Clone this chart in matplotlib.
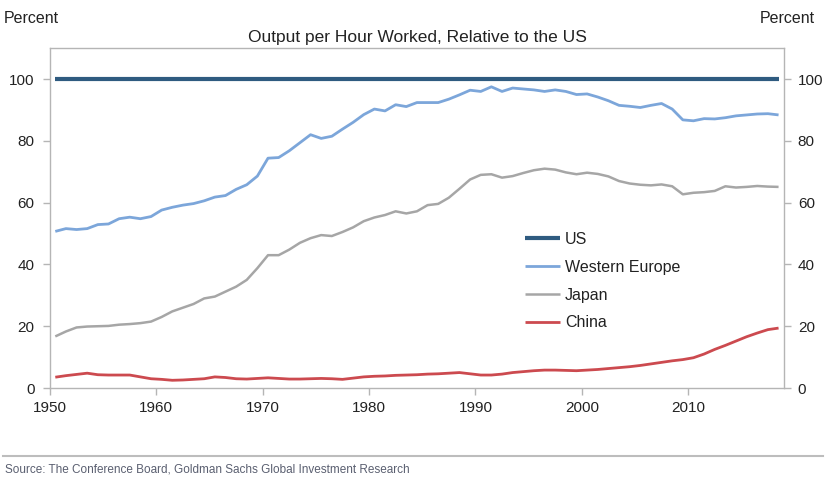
import numpy as np
import matplotlib
matplotlib.use("Agg")
import matplotlib.pyplot as plt
from matplotlib.lines import Line2D

plt.rcParams['font.family'] = ['Liberation Sans', 'DejaVu Sans']

years = np.arange(1950, 2019)

us = [100.0] * len(years)

western_europe = [
    50.7, 51.6, 51.3, 51.6, 52.9, 53.1, 54.8, 55.3, 54.8, 55.5,
    57.6, 58.5, 59.2, 59.7, 60.6, 61.8, 62.3, 64.3, 65.8, 68.6,
    74.4, 74.6, 76.8, 79.4, 82.0, 80.8, 81.5, 83.8, 86.0, 88.5,
    90.3, 89.7, 91.7, 91.1, 92.4, 92.4, 92.4, 93.5, 94.9, 96.4,
    96.0, 97.5, 96.0, 97.1, 96.8, 96.5, 96.0, 96.5, 96.0, 95.0,
    95.2, 94.2, 93.0, 91.5, 91.2, 90.8, 91.5, 92.1, 90.3, 86.8,
    86.5, 87.2, 87.1, 87.5, 88.1, 88.4, 88.7, 88.8, 88.4,
]

japan = [
    16.7, 18.3, 19.6, 19.9, 20.0, 20.1, 20.5, 20.7, 21.0, 21.5,
    23.0, 24.8, 26.0, 27.2, 29.0, 29.6, 31.2, 32.8, 35.0, 38.8,
    43.0, 43.0, 44.8, 47.0, 48.5, 49.5, 49.2, 50.5, 52.0, 54.0,
    55.2, 56.0, 57.2, 56.5, 57.2, 59.2, 59.6, 61.6, 64.5, 67.5,
    69.0, 69.2, 68.1, 68.6, 69.6, 70.5, 71.0, 70.7, 69.8, 69.2,
    69.7, 69.3, 68.5, 67.0, 66.2, 65.8, 65.6, 65.9, 65.3, 62.7,
    63.2, 63.4, 63.8, 65.3, 64.9, 65.1, 65.4, 65.2, 65.1,
]

china = [
    3.5, 4.0, 4.4, 4.8, 4.3, 4.2, 4.2, 4.2, 3.6, 3.0,
    2.8, 2.5, 2.6, 2.8, 3.0, 3.6, 3.4, 3.0, 2.9, 3.1,
    3.3, 3.1, 2.9, 2.9, 3.0, 3.1, 3.0, 2.8, 3.2, 3.6,
    3.8, 3.9, 4.1, 4.2, 4.3, 4.5, 4.6, 4.8, 5.0, 4.6,
    4.2, 4.2, 4.5, 5.0, 5.3, 5.6, 5.8, 5.8, 5.7, 5.6,
    5.8, 6.0, 6.3, 6.6, 6.9, 7.3, 7.8, 8.3, 8.8, 9.2,
    9.8, 11.0, 12.5, 13.8, 15.2, 16.6, 17.8, 18.9, 19.4,
]

series_names = ["US", "Western Europe", "Japan", "China"]
series_colors = ["#2f5b80", "#7ca6da", "#a6a6a6", "#cc4a4f"]
series_widths = [3.0, 2.0, 1.8, 2.0]

x_ticks = [1950, 1960, 1970, 1980, 1990, 2000, 2010]
y_ticks = [0, 20, 40, 60, 80, 100]

fig = plt.figure(figsize=(8.26, 4.82), dpi=100)
ax = fig.add_axes([0.0605, 0.195, 0.8885, 0.705])

# annual values sit at the middle of each year
xs = years + 0.5
handles = []
for vals, name, c, lw in zip([us, western_europe, japan, china], series_names,
                             series_colors, series_widths):
    ln, = ax.plot(xs, vals, color=c, linewidth=lw, label=name, solid_capstyle='butt')
    handles.append(ln)

ax.set_xlim(1950, 2019)
ax.set_ylim(0, 110)
ax.set_xticks(x_ticks)
ax.set_yticks(y_ticks)

spine_col = "#b5b5b5"
for s in ax.spines.values():
    s.set_color(spine_col)
    s.set_linewidth(1.0)

ax.tick_params(axis='both', colors=spine_col, labelcolor="#222222", labelsize=11,
               length=5, width=1.0, direction='out')
ax.tick_params(axis='y', pad=6)
ax.tick_params(axis='x', pad=4)

ax2 = ax.twinx()
ax2.set_ylim(0, 110)
ax2.set_yticks(y_ticks)
for s in ax2.spines.values():
    s.set_visible(False)
ax2.tick_params(axis='y', colors=spine_col, labelcolor="#222222", labelsize=11,
                length=5, width=1.0, direction='out', pad=5)

fig.text(0.005, 0.962, "Percent", fontsize=11.5, color="#222222", ha='left', va='center')
fig.text(0.987, 0.962, "Percent", fontsize=11.5, color="#222222", ha='right', va='center')
fig.text(0.505, 0.922, "Output per Hour Worked, Relative to the US", fontsize=12.5,
         color="#222222", ha='center', va='center')

leg = ax.legend(handles=handles, loc='upper left', bbox_to_anchor=(525 / 826, 1 - 232 / 482),
                bbox_transform=fig.transFigure, frameon=False, fontsize=11.5,
                handlelength=2.2, handletextpad=0.3, labelspacing=0.8,
                borderpad=0, borderaxespad=0)
for t in leg.get_texts():
    t.set_color("#222222")

fig.add_artist(Line2D([0.004, 0.996], [0.054, 0.054], transform=fig.transFigure,
                      color="#bdbdbd", linewidth=1.5))
fig.text(0.006, 0.025, "Source: The Conference Board, Goldman Sachs Global Investment Research",
         fontsize=8.5, color="#5a5f70", ha='left', va='center',
         family=['Liberation Sans Narrow', 'Liberation Sans', 'DejaVu Sans'])

fig.savefig("out.png", dpi=100)
